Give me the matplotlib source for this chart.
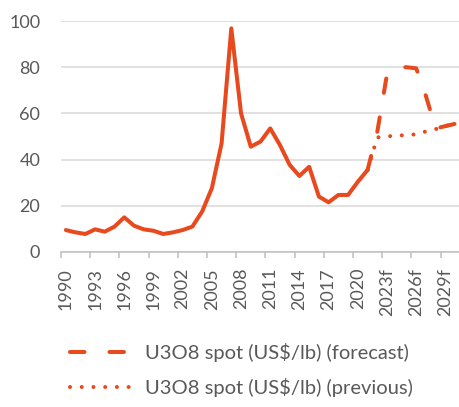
import numpy as np
import matplotlib
matplotlib.use('Agg')
import matplotlib.pyplot as plt
from matplotlib.lines import Line2D

plt.rcParams['font.family'] = ['Lato', 'DejaVu Sans']

# カテゴリ（1990〜2030）
years = list(range(1990, 2031))
tick_labels = [str(y) if y <= 2022 else f"{y}f" for y in years]

# U3O8 スポット価格（実績）
spot_years = list(range(1990, 2022))
spot = [9.5, 8.5, 7.8, 9.8, 8.8, 11.0, 15.0, 11.4, 9.8, 9.2,
        7.8, 8.5, 9.5, 11.0, 17.5, 27.6, 47.0, 96.8, 60.0, 45.6,
        47.8, 53.5, 46.3, 37.7, 32.9, 36.9, 24.0, 21.5, 24.7, 24.7,
        30.4, 35.5]

# 予測（今回）
fc_years = list(range(2021, 2031))
forecast = [35.5, 52.0, 77.0, 80.0, 80.0, 79.5, 67.5, 53.5, 54.5, 55.5]

# 予測（前回）
prev_years = list(range(2021, 2031))
previous = [35.5, 49.6, 50.0, 50.5, 50.5, 51.0, 52.2, 53.2, 54.5, 55.8]

color = '#E8491D'
grey_text = '#595959'
idx = {y: i for i, y in enumerate(years)}

fig = plt.figure(figsize=(4.6, 4.07), dpi=100)
ax = fig.add_axes([61 / 460, 1 - 252 / 407, 1 - 61 / 460, (252 - 21) / 407])

ax.plot([idx[y] for y in spot_years], spot, color=color, lw=2.9,
        solid_joinstyle='round', solid_capstyle='round', zorder=3)
ax.plot([idx[y] for y in fc_years], forecast, color=color, lw=2.9,
        dashes=(3.6, 6.2), dash_capstyle='round', zorder=3,
        label='U3O8 spot (US$/lb) (forecast)')
ax.plot([idx[y] for y in prev_years], previous, color=color, lw=2.9,
        dashes=(0.01, 2.9), dash_capstyle='round', zorder=3,
        label='U3O8 spot (US$/lb) (previous)')

ax.set_xlim(-0.5, len(years) - 0.5)
ax.set_ylim(0, 100)
ax.set_yticks(range(0, 101, 20))
ax.grid(axis='y', color='#D9D9D9', lw=1.1)
ax.set_axisbelow(True)

for s in ['left', 'right', 'top']:
    ax.spines[s].set_visible(False)
ax.spines['bottom'].set_color('#BFBFBF')
ax.spines['bottom'].set_linewidth(1.1)

# 目盛り線はカテゴリの境界、ラベルは3年ごと
ax.set_xticks(np.arange(-0.5, len(years) - 1, 3))
ax.set_xticklabels([])
ax.set_xticks(range(0, len(years), 3), minor=True)
ax.set_xticklabels([tick_labels[i] for i in range(0, len(years), 3)],
                   minor=True, rotation=90)
ax.tick_params(axis='x', which='major', length=4, width=1.1, color='#BFBFBF')
ax.tick_params(axis='x', which='minor', length=0, pad=11.5,
               labelsize=13, labelcolor=grey_text)
ax.tick_params(axis='y', length=0, pad=15, labelsize=13, labelcolor=grey_text)

handles = [
    Line2D([], [], color=color, lw=2.9, dashes=(3.6, 6.2), dash_capstyle='round'),
    Line2D([], [], color=color, lw=2.9, dashes=(0.01, 2.9), dash_capstyle='round'),
]
fig.legend(handles, ['U3O8 spot (US$/lb) (forecast)', 'U3O8 spot (US$/lb) (previous)'],
           loc='upper left', bbox_to_anchor=(70 / 460, 1 - 343 / 407),
           frameon=False, fontsize=14.5, labelcolor=grey_text,
           handlelength=3.1, handletextpad=0.6, labelspacing=0.8,
           borderpad=0, borderaxespad=0)

plt.savefig('out.png', dpi=100)
